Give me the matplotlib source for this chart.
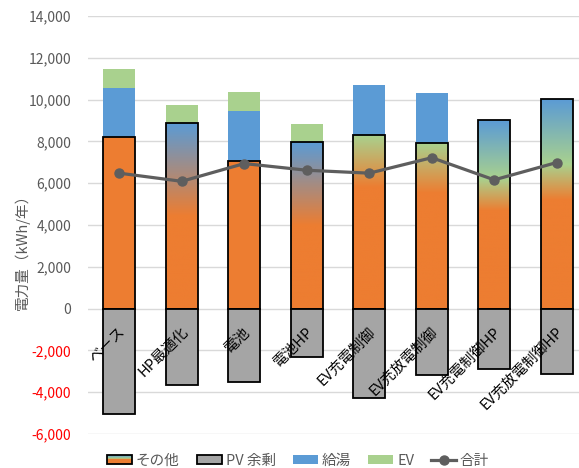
import numpy as np
import matplotlib
matplotlib.use("Agg")
import matplotlib.pyplot as plt
import matplotlib.transforms as mtransforms
from matplotlib.colors import LinearSegmentedColormap
from matplotlib.patches import Rectangle
from matplotlib.lines import Line2D
from matplotlib.legend_handler import HandlerBase
from matplotlib.ticker import FuncFormatter

plt.rcParams['font.family'] = ['Noto Sans CJK JP', 'DejaVu Sans']

# Annual electricity by scenario (kWh/year)
categories = ['ベース', 'HP最適化', '電池', '電池HP', 'EV充電制御',
              'EV充放電制御', 'EV充電制御HP', 'EV充放電制御HP']
other = [8200, 8870, 7070, 7980, 8300, 7910, 9010, 10020]
pv_surplus = [-5040, -3640, -3530, -2300, -4270, -3170, -2900, -3130]
hot_water = [2350, 0, 2390, 0, 2420, 2420, 0, 0]
ev = [920, 860, 920, 870, 0, 0, 0, 0]
total = [6480, 6090, 6940, 6620, 6480, 7220, 6160, 6990]
series_labels = ['その他', 'PV 余剰', '給湯', 'EV', '合計']

ORANGE = '#ED7D31'
GRAY = '#A5A5A5'
BLUE = '#5B9BD5'
GREEN = '#A9D18E'
LINE = '#5E5E5E'
TEXT = '#595959'

# fill style of each "その他" bar
fill_styles = ['solid', 'to_blue', 'solid', 'to_blue',
               'to_green', 'to_green', 'full', 'full']
gradients = {
    'to_blue': LinearSegmentedColormap.from_list(
        'to_blue', [(0.0, ORANGE), (0.5, ORANGE), (1.0, BLUE)]),
    'to_green': LinearSegmentedColormap.from_list(
        'to_green', [(0.0, ORANGE), (0.7, ORANGE), (1.0, GREEN)]),
    'full': LinearSegmentedColormap.from_list(
        'full', [(0.0, ORANGE), (0.52, ORANGE), (0.69, GREEN), (1.0, BLUE)]),
}

W, H = 579, 468
fig = plt.figure(figsize=(W / 100, H / 100), dpi=100)
ax = fig.add_axes([88 / W, (H - 434) / H, 500 / W, 418 / H])

x = np.arange(len(categories))
width = 0.51
other_a = np.array(other)
hw_a = np.array(hot_water)
ev_a = np.array(ev)

# "その他" bars: outline from the bar, fill from a gradient image clipped to it
bars = ax.bar(x, other_a, width, facecolor='none', edgecolor='black',
              linewidth=1.3, zorder=4)
grad = np.linspace(0, 1, 256).reshape(-1, 1)
for bar, style in zip(bars, fill_styles):
    x0, y0 = bar.get_x(), bar.get_y()
    bw, bh = bar.get_width(), bar.get_height()
    if style == 'solid':
        ax.add_patch(Rectangle((x0, y0), bw, bh, facecolor=ORANGE,
                               edgecolor='none', zorder=3))
    else:
        im = ax.imshow(grad, cmap=gradients[style], origin='lower',
                       extent=(x0, x0 + bw, y0, y0 + bh), aspect='auto',
                       interpolation='bilinear', zorder=3)
        im.set_clip_path(bar)

ax.bar(x, pv_surplus, width, color=GRAY, edgecolor='black', linewidth=1.3,
       zorder=4)
ax.bar(x, hw_a, width, bottom=other_a, color=BLUE, zorder=3)
ax.bar(x, ev_a, width, bottom=other_a + hw_a, color=GREEN, zorder=3)
ax.plot(x, total, color=LINE, linewidth=2.3, marker='o', markersize=6.5,
        zorder=6)

ax.set_xlim(-0.5, len(categories) - 0.5)
ax.set_ylim(-6000, 14000)
ax.set_yticks(np.arange(-6000, 14001, 2000))
ax.yaxis.set_major_formatter(FuncFormatter(lambda v, p: f'{int(v):,}'))
ax.tick_params(axis='y', length=0, pad=12, labelsize=10)
ax.set_xticks([])
for lab, val in zip(ax.get_yticklabels(), ax.get_yticks()):
    lab.set_color('#FF0000' if val < 0 else TEXT)
ax.yaxis.grid(True, color='#D9D9D9', linewidth=1.0)
ax.set_axisbelow(True)
for s in ax.spines.values():
    s.set_visible(False)

# rotated category labels hanging from the zero line
lab_tr = mtransforms.offset_copy(ax.transData, fig=fig, x=4, y=-21,
                                 units='dots')
for xi, name in zip(x, categories):
    ax.text(xi, 0, name, transform=lab_tr, rotation=45,
            rotation_mode='anchor', ha='right', va='center',
            fontsize=10.5, color='black', zorder=7)

fig.text(22 / W, 1 - 248 / H, '電力量（kWh/年）', rotation=90,
         ha='center', va='center', fontsize=10.5, color=TEXT)


class GradientHandler(HandlerBase):
    def create_artists(self, legend, orig_handle, xdescent, ydescent,
                       width, height, fontsize, trans):
        arts = []
        n = 24
        cmap = gradients['full']
        for k in range(n):
            r = Rectangle((-xdescent, -ydescent + height * k / n), width,
                          height / n + 0.05, facecolor=cmap((k + 0.5) / n),
                          edgecolor='none', transform=trans)
            arts.append(r)
        arts.append(Rectangle((-xdescent, -ydescent), width, height,
                              facecolor='none', edgecolor='black',
                              linewidth=1.3, transform=trans))
        return arts


h_other = Rectangle((0, 0), 1, 1)
h_pv = Rectangle((0, 0), 1, 1, facecolor=GRAY, edgecolor='black',
                 linewidth=1.3)
h_hw = Rectangle((0, 0), 1, 1, facecolor=BLUE, edgecolor='none')
h_ev = Rectangle((0, 0), 1, 1, facecolor=GREEN, edgecolor='none')
h_tot = Line2D([], [], color=LINE, linewidth=2.3, marker='o', markersize=6.5)
fig.legend([h_other, h_pv, h_hw, h_ev, h_tot], series_labels,
           handler_map={h_other: GradientHandler()},
           loc='center', bbox_to_anchor=(298 / W, 1 - 461 / H), ncol=5,
           frameon=False, fontsize=10.5, handlelength=1.75,
           handleheight=0.6, handletextpad=0.25, columnspacing=1.15,
           labelcolor=TEXT, borderpad=0, borderaxespad=0)

fig.savefig('out.png', dpi=100)
